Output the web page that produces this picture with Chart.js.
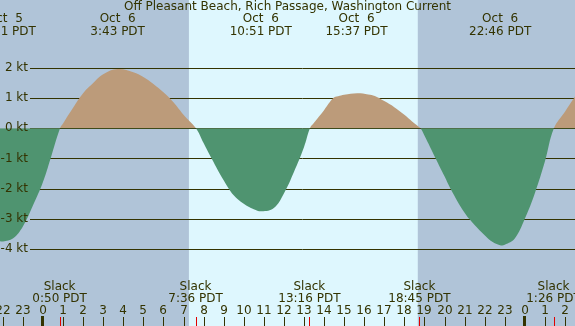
<!DOCTYPE html>
<html>
<head>
<meta charset="utf-8">
<script src="https://cdn.jsdelivr.net/npm/chart.js@4.4.1/dist/chart.umd.min.js"></script>
<style>
  html, body { margin: 0; padding: 0; background: #b0c4d8; }
  #wrap { width: 575px; height: 326px; }
</style>
</head>
<body>
<div id="wrap"><canvas id="tideChart" width="575" height="326"></canvas></div>
<script>
// current speed in knots (hours from Oct 6 00:00 PDT)
const hours = [-2.14, -1.99, -1.5, -1, -0.5, 0, 0.38, 0.85,
               1, 1.5, 2, 2.5, 3, 3.72, 4.5, 5, 5.5, 6, 6.5, 7, 7.62,
               8, 8.4, 9, 9.5, 10, 10.5, 10.89, 11.5, 12, 12.5, 13, 13.3,
               13.5, 14, 14.46, 14.7, 15, 15.65, 16.2, 16.53, 17, 17.5, 18, 18.4, 18.8,
               19, 19.56, 20, 20.3, 21, 21.5, 22, 22.4, 22.81, 23, 23.5, 24, 24.5, 25, 25.45,
               26, 26.5];
const knots = [-3.74, -3.75, -3.65, -3.25, -2.56, -1.78, -1.0, 0,
               0.16, 0.68, 1.16, 1.5, 1.79, 1.96, 1.86, 1.7, 1.47, 1.19, 0.86, 0.45, 0,
               -0.49, -1.0, -1.72, -2.22, -2.5, -2.68, -2.75, -2.64, -2.16, -1.45, -0.63, 0,
               0.18, 0.6, 1.0, 1.06, 1.11, 1.16, 1.12, 1.07, 0.9, 0.7, 0.45, 0.22, 0,
               -0.24, -1.0, -1.59, -2.0, -2.8, -3.2, -3.54, -3.77, -3.88, -3.86, -3.65, -3.0, -2.15, -1.1, 0,
               0.55, 1.05];

// max flood / max ebb labels along the top
const peakHours = [-1.9, 3.72, 10.85, 15.62, 22.77];
const peakDates = ['Oct  5', 'Oct  6', 'Oct  6', 'Oct  6', 'Oct  6'];
const peakTimes = ['22:01 PDT', '3:43 PDT', '10:51 PDT', '15:37 PDT', '22:46 PDT'];

// slack water labels along the bottom
const slackHours = [0.83, 7.6, 13.27, 18.75, 25.43];
const slackTimes = ['0:50 PDT', '7:36 PDT', '13:16 PDT', '18:45 PDT', '1:26 PDT'];

const gridKnots = [2, 1, 0, -1, -2, -3, -4];
const hourTicks = [];
for (let h = -2; h <= 26; h++) hourTicks.push(h);
const daylight = [7.27, 18.67];

const titleText = 'Off Pleasant Beach, Rich Passage, Washington Current';
const ink = '#333300';
const font = '12px "DejaVu Sans", sans-serif';

// Draws background, grid, labels and ticks using the chart's scales
const tidePlugin = {
    id: 'tide',
    beforeDatasetsDraw(chart) {
        const { ctx, scales: { x, y }, width, height } = chart;
        ctx.save();
        ctx.fillStyle = '#b0c4d8';
        ctx.fillRect(0, 0, width, height);
        const d0 = x.getPixelForValue(daylight[0]);
        const d1 = x.getPixelForValue(daylight[1]);
        ctx.fillStyle = '#def7fe';
        ctx.fillRect(d0, 0, d1 - d0, height);

        ctx.strokeStyle = ink;
        ctx.lineWidth = 1;
        gridKnots.forEach(k => {
            const py = Math.round(y.getPixelForValue(k)) + 0.5;
            ctx.beginPath();
            ctx.moveTo(30, py);
            ctx.lineTo(width, py);
            ctx.stroke();
        });
        ctx.restore();
    },
    afterDatasetsDraw(chart) {
        const { ctx, scales: { x, y }, width, height } = chart;
        ctx.save();
        ctx.font = font;
        ctx.fillStyle = ink;
        ctx.textBaseline = 'middle';

        // y labels
        ctx.textAlign = 'right';
        gridKnots.forEach(k => {
            ctx.fillText(k + ' kt', 28, y.getPixelForValue(k));
        });

        ctx.textAlign = 'center';
        ctx.fillText(titleText, width / 2, 7);

        peakHours.forEach((h, i) => {
            const px = x.getPixelForValue(h);
            ctx.fillText(peakDates[i], px, 19);
            ctx.fillText(peakTimes[i], px, 32);
        });

        slackHours.forEach((h, i) => {
            const px = x.getPixelForValue(h);
            ctx.fillText('Slack', px, 287);
            ctx.fillText(slackTimes[i], px, 299);
        });

        // hour ticks
        hourTicks.forEach(h => {
            const px = Math.round(x.getPixelForValue(h));
            ctx.fillStyle = ink;
            ctx.fillText(String(((h % 24) + 24) % 24), px, 311);
            if (h % 24 === 0) {
                ctx.fillRect(px - 2, 316, 3, height - 316);
            } else {
                ctx.fillRect(px, 317, 1, height - 317);
            }
        });

        // slack ticks in red
        ctx.fillStyle = '#e00000';
        slackHours.forEach(h => {
            const px = Math.round(x.getPixelForValue(h));
            ctx.fillRect(px, 317, 1, height - 317);
        });
        ctx.restore();
    }
};

new Chart(document.getElementById('tideChart'), {
    type: 'line',
    data: {
        datasets: [{
            data: hours.map((h, i) => ({ x: h, y: knots[i] })),
            fill: { target: { value: 0 }, above: '#bc9b7a', below: '#4f9470' },
            borderColor: 'rgba(0,0,0,0)',
            borderWidth: 0,
            pointRadius: 0,
            tension: 0.4
        }]
    },
    options: {
        responsive: false,
        animation: false,
        layout: { padding: 0 },
        scales: {
            x: { type: 'linear', min: -2.14, max: 26.5, display: false },
            y: { min: -6.55, max: 4.25, display: false }
        },
        plugins: {
            legend: { display: false },
            tooltip: { enabled: false }
        }
    },
    plugins: [tidePlugin]
});
</script>
</body>
</html>
